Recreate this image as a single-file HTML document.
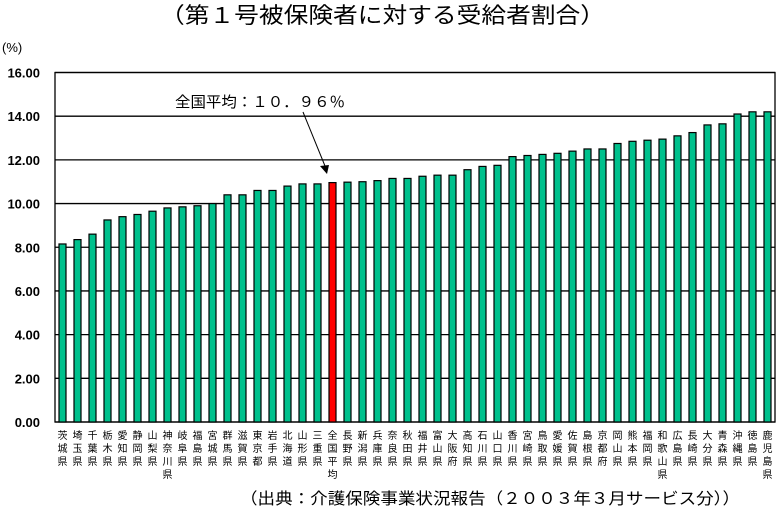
<!DOCTYPE html>
<html><head><meta charset="utf-8"><style>
body{margin:0;background:#fff;width:777px;height:513px;overflow:hidden;font-family:"Liberation Sans","Noto Sans CJK JP",sans-serif}
</style></head><body>
<svg id="chart" width="777" height="513" xmlns="http://www.w3.org/2000/svg" font-family="Liberation Sans, Noto Sans CJK JP, sans-serif">
<text x="160" y="23" font-size="22" font-family="Noto Sans CJK JP, sans-serif" textLength="445" lengthAdjust="spacingAndGlyphs">（第１号被保険者に対する受給者割合）</text>
<text x="2" y="52" font-size="13">(%)</text>
<text x="240" y="504" font-size="16" font-family="Noto Sans CJK JP, sans-serif" textLength="500" lengthAdjust="spacingAndGlyphs">（出典：介護保険事業状況報告（２００３年３月サービス分））</text>
<g id="grid"></g><g id="bars"></g><g id="xlabels"></g>
<text x="175" y="107" font-size="15" font-family="Noto Sans CJK JP, sans-serif" textLength="170" lengthAdjust="spacingAndGlyphs">全国平均：１０．９６％</text>
<line x1="303" y1="112" x2="325" y2="166" stroke="#000" stroke-width="1"/>
<polygon points="320,166 329,165 327,174" fill="#000"/>
</svg>
<script>
const categories=["茨城県","埼玉県","千葉県","栃木県","愛知県","静岡県","山梨県","神奈川県","岐阜県","福島県","宮城県","群馬県","滋賀県","東京都","岩手県","北海道","山形県","三重県","全国平均","長野県","新潟県","兵庫県","奈良県","秋田県","福井県","富山県","大阪府","高知県","石川県","山口県","香川県","宮崎県","鳥取県","愛媛県","佐賀県","島根県","京都府","岡山県","熊本県","福岡県","和歌山県","広島県","長崎県","大分県","青森県","沖縄県","徳島県","鹿児島県"];
const values=[8.15,8.35,8.6,9.25,9.4,9.5,9.65,9.8,9.85,9.9,10.0,10.4,10.4,10.6,10.6,10.8,10.9,10.9,10.96,10.98,11.0,11.05,11.15,11.15,11.25,11.3,11.3,11.55,11.7,11.75,12.15,12.2,12.25,12.3,12.4,12.5,12.5,12.75,12.85,12.9,12.95,13.1,13.25,13.6,13.65,14.1,14.2,14.2];
const yTicks=[0,2,4,6,8,10,12,14,16];
const yTickLabels=["0.00","2.00","4.00","6.00","8.00","10.00","12.00","14.00","16.00"];
const NS="http://www.w3.org/2000/svg";
const L=55,R=775,T=72.5,B=422,yMax=16;
const y=v=>B-(v/yMax)*(B-T);
const step=(R-L)/categories.length;
const x=i=>L+step*(i+0.5);
function mk(t,a,p){const e=document.createElementNS(NS,t);for(const k in a)e.setAttribute(k,a[k]);p.appendChild(e);return e;}
const grid=document.getElementById('grid');
yTicks.forEach((t,i)=>{
  const ln=mk('line',{x1:L,x2:R,y1:y(t),y2:y(t),stroke:'#000','stroke-width':1.3},grid);
  
  
  const tx=mk('text',{x:40,y:y(t)+5,'font-size':13,'font-weight':'bold','text-anchor':'end'},grid);
  tx.textContent=yTickLabels[i];
  
  
});
const frame=mk('rect',{x:L,y:T,width:R-L,height:B-T,fill:'none',stroke:'#000','stroke-width':1.3},grid);


const bars=document.getElementById('bars'),xl=document.getElementById('xlabels');
values.forEach((v,i)=>{
  const b=mk('rect',{x:x(i)-3.5,y:y(v),width:7,height:B-y(v),fill:categories[i]==='全国平均'?'#ff0000':'#00c08c',stroke:'#000','stroke-width':1.2},bars);
  
  
  const t=mk('text',{'font-size':10,'text-anchor':'middle'},xl);
  
  
  [...categories[i]].forEach((c,j)=>{const s=mk('tspan',{x:x(i),y:439+j*13},t);s.textContent=c;});
});
</script>
</body></html>
